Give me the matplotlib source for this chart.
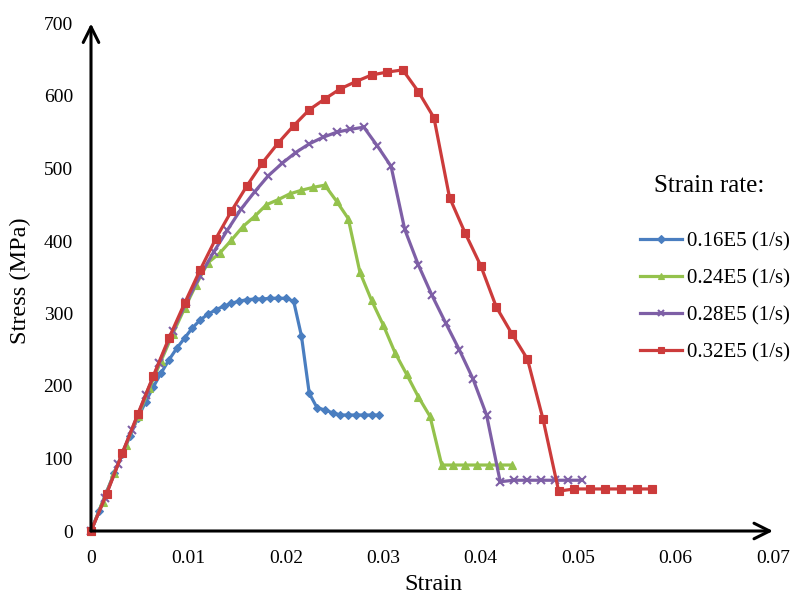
import matplotlib
matplotlib.use("Agg")
import matplotlib.pyplot as plt
from matplotlib.lines import Line2D

plt.rcParams['font.family'] = ['Liberation Serif', 'DejaVu Serif']

# ---- data ----
strain_016 = [0, 0.0008, 0.0016, 0.0024, 0.0032, 0.0040, 0.0048, 0.0056, 0.0064, 0.0072,
              0.0080, 0.0088, 0.0096, 0.0104, 0.0112, 0.0120, 0.0128, 0.0136, 0.0144, 0.0152,
              0.0160, 0.0168, 0.0176, 0.0184, 0.0192, 0.0200, 0.0208, 0.0216, 0.0224, 0.0232,
              0.0240, 0.0248, 0.0256, 0.0264, 0.0272, 0.0280, 0.0288, 0.0296]
stress_016 = [0, 27, 54, 80, 106, 131, 156, 178, 199, 218,
              236, 252, 266, 280, 291, 299, 305, 310, 314, 317,
              319, 320, 320, 321, 321, 321, 317, 269, 190, 170,
              167, 163, 160, 160, 160, 160, 160, 160]

strain_024 = [0, 0.0012, 0.0024, 0.0036, 0.0048, 0.0060, 0.0072, 0.0084, 0.0096, 0.0108,
              0.0120, 0.0132, 0.0144, 0.0156, 0.0168, 0.0180, 0.0192, 0.0204, 0.0216, 0.0228,
              0.0240, 0.0252, 0.0264, 0.0276, 0.0288, 0.0300, 0.0312, 0.0324, 0.0336, 0.0348,
              0.0360, 0.0372, 0.0384, 0.0396, 0.0408, 0.0420, 0.0432]
stress_024 = [0, 40, 80, 119, 158, 197, 235, 272, 307, 340,
              370, 383, 401, 420, 434, 450, 457, 465, 470, 474,
              477, 455, 431, 357, 318, 284, 246, 216, 185, 158,
              91, 91, 91, 91, 91, 91, 91]

strain_028 = [0, 0.0014, 0.0028, 0.0042, 0.0056, 0.0070, 0.0084, 0.0098, 0.0112, 0.0126,
              0.0140, 0.0154, 0.0168, 0.0182, 0.0196, 0.0210, 0.0224, 0.0238, 0.0252, 0.0266,
              0.0280, 0.0294, 0.0308, 0.0322, 0.0336, 0.0350, 0.0364, 0.0378, 0.0392, 0.0406,
              0.0420, 0.0434, 0.0448, 0.0462, 0.0476, 0.0490, 0.0504]
stress_028 = [0, 45, 93, 140, 187, 232, 276, 316, 352, 385,
              415, 444, 468, 490, 507, 522, 534, 543, 550, 554,
              557, 531, 503, 416, 367, 325, 287, 250, 210, 160,
              68, 70, 70, 70, 70, 70, 70]

strain_032 = [0, 0.0016, 0.0032, 0.0048, 0.0064, 0.0080, 0.0096, 0.0112, 0.0128, 0.0144,
              0.0160, 0.0176, 0.0192, 0.0208, 0.0224, 0.0240, 0.0256, 0.0272, 0.0288, 0.0304,
              0.0320, 0.0336, 0.0352, 0.0368, 0.0384, 0.0400, 0.0416, 0.0432, 0.0448, 0.0464,
              0.0480, 0.0496, 0.0512, 0.0528, 0.0544, 0.0560, 0.0576]
stress_032 = [0, 51, 107, 161, 214, 266, 314, 360, 403, 441,
              476, 508, 535, 559, 581, 596, 610, 620, 629, 633,
              636, 606, 570, 460, 411, 366, 309, 272, 237, 154,
              55, 58, 58, 58, 58, 58, 58]

series_labels = ['0.16E5 (1/s)', '0.24E5 (1/s)', '0.28E5 (1/s)', '0.32E5 (1/s)']
x_ticks = [0, 0.01, 0.02, 0.03, 0.04, 0.05, 0.06, 0.07]
x_tick_labels = ['0', '0.01', '0.02', '0.03', '0.04', '0.05', '0.06', '0.07']
y_ticks = [0, 100, 200, 300, 400, 500, 600, 700]

# ---- styles ----
colors = ['#4A7EC0', '#94C24C', '#7E5FA6', '#CC3B3B']
markers = ['D', '^', 'x', 's']
msizes = [4.5, 6, 6, 6]

fig = plt.figure(figsize=(7.93, 5.99), dpi=100)
ax = fig.add_axes([91/793, 68/599, 682/793, 507.5/599])

data = [(strain_016, stress_016), (strain_024, stress_024),
        (strain_028, stress_028), (strain_032, stress_032)]
handles = []
for (xs, ys), c, m, ms, lab in zip(data, colors, markers, msizes, series_labels):
    h, = ax.plot(xs, ys, color=c, lw=2.3, marker=m, markersize=ms,
                 markeredgewidth=1.5 if m == 'x' else 0.8,
                 markeredgecolor=c, markerfacecolor=c, label=lab, clip_on=False, zorder=3)
    handles.append(h)

ax.set_xlim(0, 0.07)
ax.set_ylim(0, 700)
ax.set_xticks(x_ticks)
ax.set_xticklabels(x_tick_labels)
ax.set_yticks(y_ticks)
for s in ax.spines.values():
    s.set_visible(False)
ax.tick_params(axis='both', length=0, labelsize=14)
ax.tick_params(axis='x', pad=14)
ax.tick_params(axis='y', pad=13)

# axes with arrow heads
ax.annotate('', xy=(1.0, 0), xytext=(0, 0), xycoords='axes fraction',
            arrowprops=dict(arrowstyle='->', lw=2.2, color='black',
                            mutation_scale=28, shrinkA=0, shrinkB=0), zorder=5)
ax.annotate('', xy=(0, 1.0), xytext=(0, 0), xycoords='axes fraction',
            arrowprops=dict(arrowstyle='->', lw=2.2, color='black',
                            mutation_scale=28, shrinkA=0, shrinkB=0), zorder=5)

fig.text(433/793, 1 - 585/599, 'Strain', ha='center', va='center', fontsize=17.5)
fig.text(20/793, 1 - 281/599, 'Stress (MPa)', ha='center', va='center',
         rotation=90, fontsize=17.5)

fig.text(709/793, 1 - 186/599, 'Strain rate:', ha='center', va='center', fontsize=18)

leg = ax.legend(handles=handles, loc='upper left',
                bbox_to_anchor=(640/793, 1 - 232/599), bbox_transform=fig.transFigure,
                frameon=False, fontsize=15, handlelength=2.0, handletextpad=0.25,
                labelspacing=0.83, borderpad=0, borderaxespad=0)
for lh in leg.get_lines():
    lh.set_markersize(4)

fig.savefig('out.png', dpi=100)
